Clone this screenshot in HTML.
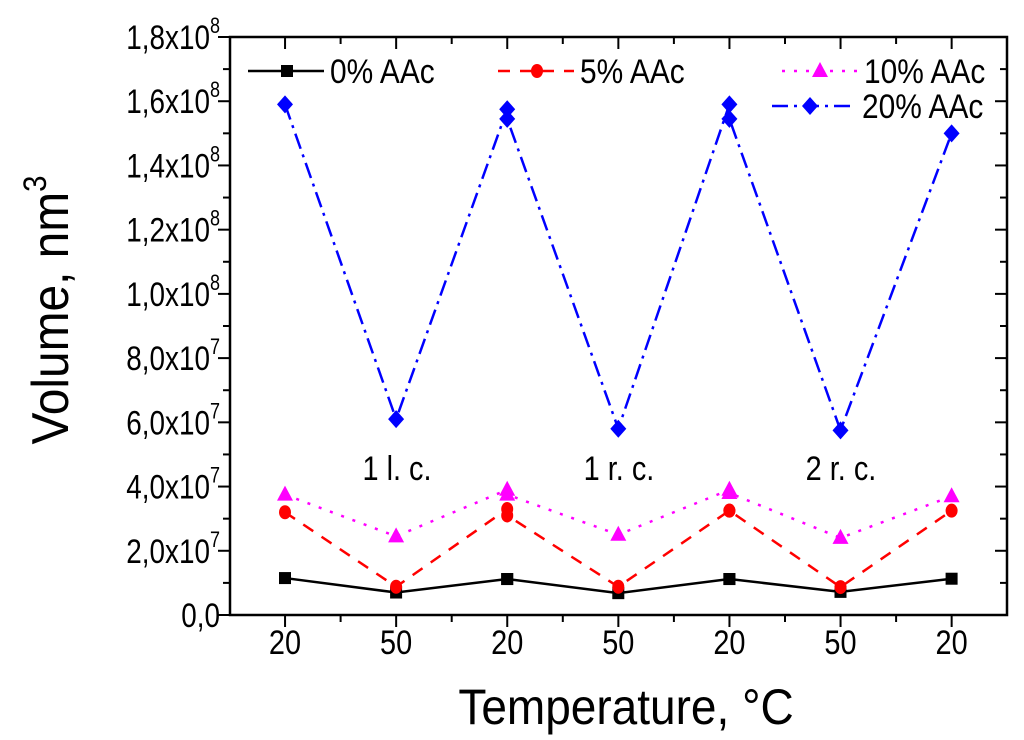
<!DOCTYPE html>
<html><head><meta charset="utf-8"><style>
body{margin:0;background:#fff;width:1024px;height:735px;overflow:hidden}
svg{font-family:"Liberation Sans",sans-serif}
</style></head><body>
<svg id="chart" width="1024" height="735" xmlns="http://www.w3.org/2000/svg"></svg>
<script>
const categories=["20","50","20","50","20","50","20"];
const xIdx=[0,1,2,2,3,4,4,5,6];
const s0=[1.15e7,0.7e7,1.12e7,1.12e7,0.68e7,1.12e7,1.12e7,0.72e7,1.13e7];
const s5=[3.2e7,0.88e7,3.3e7,3.1e7,0.88e7,3.25e7,3.25e7,0.87e7,3.25e7];
const s10=[3.75e7,2.45e7,3.9e7,3.75e7,2.5e7,3.9e7,3.8e7,2.4e7,3.7e7];
const s20=[1.59e8,6.1e7,1.575e8,1.545e8,5.8e7,1.59e8,1.545e8,5.75e7,1.5e8];
const yTicks=[0,2e7,4e7,6e7,8e7,1e8,1.2e8,1.4e8,1.6e8,1.8e8];
const yTickLabels=["0,0","2,0x10^7","4,0x10^7","6,0x10^7","8,0x10^7","1,0x10^8","1,2x10^8","1,4x10^8","1,6x10^8","1,8x10^8"];
const L=230,R=1007,T=37,B=615;
const X=i=>285+i*111.1;
const Y=v=>B-(v/1.8e8)*(B-T);
const svg=document.getElementById('chart');const NS='http://www.w3.org/2000/svg';
function mk(t,a,p){const e=document.createElementNS(NS,t);for(const k in a)e.setAttribute(k,a[k]);(p||svg).appendChild(e);return e;}
function txt(x,y,size,sx,anchor,p,rot){const g=mk('g',{transform:`translate(${x},${y})`+(rot?` rotate(${rot})`:'')+` scale(${sx},1)`},p);return mk('text',{x:0,y:0,'font-size':size,'text-anchor':anchor},g);}
const frame=mk('rect',{x:L,y:T,width:R-L,height:B-T,fill:'none',stroke:'#000','stroke-width':2.5});


for(let k=0;k<=13;k++){const x=X(0)-55.5+k*55.55;if(x<L+2||x>R-2)continue;const maj=(k%2==1);
mk('line',{x1:x,x2:x,y1:B,y2:B+(maj?12:7),stroke:'#000','stroke-width':2});
mk('line',{x1:x,x2:x,y1:T,y2:T+(maj?12:7),stroke:'#000','stroke-width':2});}
categories.forEach((c,i)=>{const t=txt(X(i),654,34,0.85,'middle');t.textContent=c;

});
yTicks.forEach((v,i)=>{const y=Y(v);
mk('line',{x1:L-12,x2:L,y1:y,y2:y,stroke:'#000','stroke-width':2});
mk('line',{x1:R-12,x2:R,y1:y,y2:y,stroke:'#000','stroke-width':2});
if(i<yTicks.length-1){const ym=Y(v+1e7);mk('line',{x1:L-7,x2:L,y1:ym,y2:ym,stroke:'#000','stroke-width':2});mk('line',{x1:R-7,x2:R,y1:ym,y2:ym,stroke:'#000','stroke-width':2});}
const t=txt(220,y+12,34,0.82,'end');


const parts=yTickLabels[i].split('^');t.textContent=parts[0];
if(parts[1]){const s=mk('tspan',{dy:-16,'font-size':22},t);s.textContent=parts[1];}});
const xt=txt(626,724,50,0.92,'middle');xt.textContent='Temperature, °C';


const yt=txt(68,310,52,0.92,'middle',null,-90);


yt.textContent='Volume, nm';const sup=mk('tspan',{dy:-22,'font-size':32},yt);sup.textContent='3';
[['1 l. c.',397],['1 r. c.',619],['2 r. c.',841]].forEach(a=>{const t=txt(a[1],480,34,0.85,'middle');t.textContent=a[0];

});
function marker(type,x,y,c,g){
if(type=='sq')mk('rect',{x:x-6,y:y-6,width:12,height:12,fill:c},g);
else if(type=='ci')mk('ellipse',{cx:x,cy:y,rx:6,ry:7,fill:c},g);
else if(type=='tr')mk('polygon',{points:`${x},${y-9} ${x+8},${y+6} ${x-8},${y+6}`,fill:c},g);
else mk('polygon',{points:`${x},${y-9} ${x+8},${y} ${x},${y+9} ${x-8},${y}`,fill:c},g);}
const series=[[s0,'#000','none','sq','0% AAc','series-0-aac'],[s5,'#f00','12,10','ci','5% AAc','series-5-aac'],[s10,'#f0f','3,9','tr','10% AAc','series-10-aac'],[s20,'#00f','16,6,3,6','di','20% AAc','series-20-aac']];
series.forEach(s=>{const g=mk('g',{});


const pts=s[0].map((v,i)=>X(xIdx[i])+','+Y(v)).join(' ');
mk('polyline',{points:pts,fill:'none',stroke:s[1],'stroke-width':2.5,'stroke-dasharray':s[2]},g);
s[0].forEach((v,i)=>marker(s[3],X(xIdx[i]),Y(v),s[1],g));});
const leg=[[248,71,0],[498,71,1],[782,71,2],[772,106,3]];
leg.forEach(p=>{const s=series[p[2]];const g=mk('g',{});


const x0=p[0],w=p[2]==3?84:76;
mk('line',{x1:x0,x2:x0+w,y1:p[1],y2:p[1],stroke:s[1],'stroke-width':2.5,'stroke-dasharray':s[2]},g);
marker(s[3],x0+(p[2]>=2?38:39),p[1],s[1],g);
const t=txt(x0+w+6,p[1]+12,34,0.88,'start',g);t.textContent=s[4];});
</script>
</body></html>
